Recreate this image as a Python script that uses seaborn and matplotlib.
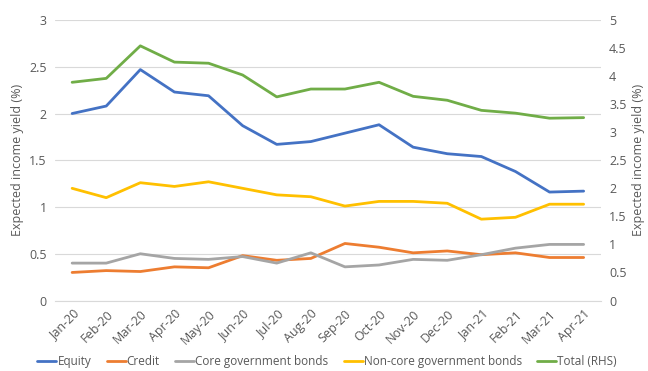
import matplotlib
matplotlib.use("Agg")
import matplotlib.pyplot as plt
import seaborn as sns
import pandas as pd
import numpy as np

months = ["Jan-20", "Feb-20", "Mar-20", "Apr-20", "May-20", "Jun-20", "Jul-20", "Aug-20",
          "Sep-20", "Oct-20", "Nov-20", "Dec-20", "Jan-21", "Feb-21", "Mar-21", "Apr-21"]
equity = [2.00, 2.08, 2.47, 2.23, 2.19, 1.87, 1.67, 1.70, 1.79, 1.88, 1.64, 1.57, 1.54, 1.38, 1.16, 1.17]
credit = [0.30, 0.32, 0.31, 0.36, 0.35, 0.48, 0.43, 0.45, 0.61, 0.57, 0.51, 0.53, 0.49, 0.51, 0.46, 0.46]
core_gov = [0.40, 0.40, 0.50, 0.45, 0.44, 0.47, 0.40, 0.51, 0.36, 0.38, 0.44, 0.43, 0.49, 0.56, 0.60, 0.60]
noncore_gov = [1.20, 1.10, 1.26, 1.22, 1.27, 1.20, 1.13, 1.11, 1.01, 1.06, 1.06, 1.04, 0.87, 0.89, 1.03, 1.03]
total_rhs = [3.89, 3.96, 4.54, 4.25, 4.23, 4.02, 3.63, 3.77, 3.77, 3.89, 3.64, 3.57, 3.39, 3.34, 3.25, 3.26]

series_left = [("Equity", equity, "#4472C4"), ("Credit", credit, "#ED7D31"),
               ("Core government bonds", core_gov, "#A5A5A5"),
               ("Non-core government bonds", noncore_gov, "#FFC000")]

sns.set_style("white")
plt.rcParams["font.family"] = ["Open Sans", "DejaVu Sans"]
txt = "#595959"
fs = 9

fig, ax = plt.subplots(figsize=(6.48, 3.71), dpi=100)
fig.subplots_adjust(left=0.085, right=0.927, top=0.946, bottom=0.19)
ax2 = ax.twinx()

x = list(range(len(months)))
handles = []
for name, vals, col in series_left:
    df = pd.DataFrame({"x": x, "y": vals})
    sns.lineplot(data=df, x="x", y="y", ax=ax, color=col, linewidth=2, label=name, legend=False)
    handles.append(ax.lines[-1])
df = pd.DataFrame({"x": x, "y": total_rhs})
sns.lineplot(data=df, x="x", y="y", ax=ax2, color="#70AD47", linewidth=2, legend=False)
ax2.lines[-1].set_label("Total (RHS)")
handles.append(ax2.lines[-1])

ax.set_xlim(-0.5, len(months) - 0.5)
ax.set_ylim(0, 3)
ax2.set_ylim(0, 5)
ax.set_yticks([0, 0.5, 1, 1.5, 2, 2.5, 3])
ax.set_yticklabels(["0", "0.5", "1", "1.5", "2", "2.5", "3"])
ax2.set_yticks([0, 0.5, 1, 1.5, 2, 2.5, 3, 3.5, 4, 4.5, 5])
ax2.set_yticklabels(["0", "0.5", "1", "1.5", "2", "2.5", "3", "3.5", "4", "4.5", "5"])
ax.set_xticks(x)
ax.set_xticklabels(months, rotation=45, ha="right", rotation_mode="anchor")
ax.set_xticks(np.arange(-0.5, len(months), 1.0), minor=True)
ax.grid(axis="y", color="#D9D9D9", linewidth=0.8)
ax.set_axisbelow(True)

for a in (ax, ax2):
    for s in a.spines.values():
        s.set_visible(False)
    a.tick_params(axis="both", colors=txt, labelsize=fs, length=0, pad=6)
ax.spines["bottom"].set_visible(True)
ax.spines["bottom"].set_color("#D9D9D9")
ax.tick_params(axis="x", which="major", length=0, pad=5)
ax.tick_params(axis="x", which="minor", length=4, color="#D9D9D9")
ax.set_xlabel("")
ax.set_ylabel("Expected income yield (%)", color=txt, fontsize=fs, labelpad=4)
ax2.set_ylabel("Expected income yield (%)", color=txt, fontsize=fs, labelpad=4)
ax2.set_xlabel("")

fig.legend(handles=handles, labels=[h.get_label() for h in handles], loc="lower center",
           ncol=5, frameon=False, fontsize=8.5, labelcolor=txt, bbox_to_anchor=(0.505, -0.02),
           handlelength=1.6, handletextpad=0.1, columnspacing=1.3)

fig.savefig("out.png", dpi=100)
